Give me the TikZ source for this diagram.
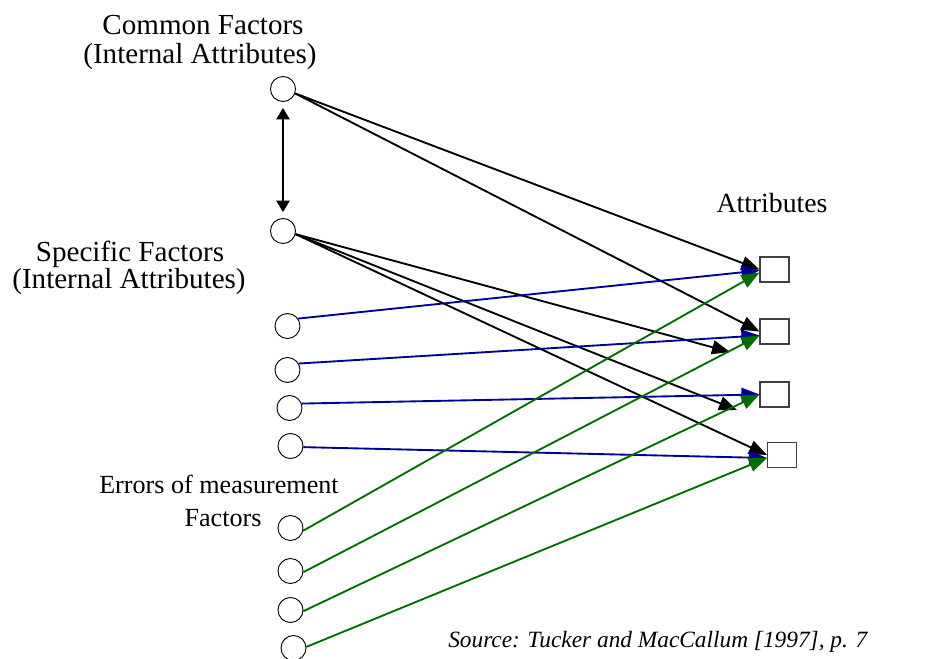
\documentclass[tikz,border=0pt]{standalone}
\usepackage{fontspec}
\setmainfont{Liberation Serif}
\usetikzlibrary{arrows.meta,calc}
\definecolor{pathblue}{RGB}{0,0,150}
\definecolor{pathgreen}{RGB}{0,110,0}

\begin{document}
\begin{tikzpicture}[x=0.75pt,y=-0.75pt,
  factor/.style={circle,draw,line width=0.7pt,minimum size=18.75pt,inner sep=0pt},
  attr/.style={rectangle,draw=black!75,line width=0.8pt,minimum width=21.75pt,minimum height=18.75pt,inner sep=0pt},
  load/.style={line width=1.4pt,-{Triangle[length=13.5pt,width=10.5pt]}},
  corr/.style={line width=0.8pt,{Triangle[length=8.5pt,width=10pt]}-{Triangle[length=8.5pt,width=10pt]},shorten <=4.5pt,shorten >=4.5pt},
  lbl/.style={anchor=base,inner sep=0pt,font=\fontsize{21.8}{24}\selectfont},
  lblsmall/.style={anchor=base,inner sep=0pt,font=\fontsize{19.6}{22}\selectfont},
  lblattr/.style={anchor=base,inner sep=0pt,font=\fontsize{20.8}{23}\selectfont},
  srcnote/.style={anchor=base west,inner sep=0pt,font=\fontsize{17.5}{20}\selectfont\itshape}
]
\useasboundingbox (0,0) rectangle (930,658);

% factor circles
\node[factor] (c1) at (283,89) {};
\node[factor] (c2) at (283,231) {};
\node[factor] (s1) at (287.5,326) {};
\node[factor] (s2) at (287.5,370) {};
\node[factor] (s3) at (289.5,408) {};
\node[factor] (s4) at (290.5,446) {};
\node[factor] (e1) at (290.5,528) {};
\node[factor] (e2) at (290.5,571) {};
\node[factor] (e3) at (290.5,610) {};
\node[factor] (e4) at (293.5,648) {};

% attribute boxes
\node[attr] (a1) at (774.5,269.5) {};
\node[attr] (a2) at (774.5,331.5) {};
\node[attr] (a3) at (774.5,394.5) {};
\node[attr] (a4) at (782,455) {};

% loose ends of the two short specific-factor arrows
\coordinate (t1) at (730,352);
\coordinate (t2) at (737,410);

% labels
\node[lbl] (cf1) at (203,34) {Common Factors};
\node[lbl] (cf2) at (200,63) {(Internal Attributes)};
\node[lbl] (sf1) at (130,261) {Specific Factors};
\node[lbl] (sf2) at (129,288) {(Internal Attributes)};
\node[lblsmall] (ef1) at (219,493) {Errors of measurement};
\node[lblsmall] (ef2) at (223,526) {Factors};
\node[lblattr] (at) at (772,212) {Attributes};
\node[srcnote] (src) at (448,647) {Source: Tucker and MacCallum [1997], p. 7};

% correlation between common and specific factors
\draw[corr] (c1) -- (c2);

% common and specific factor loadings
\draw[load] (c1.-20) -- (a1.west);
\draw[load] (c1.-20) -- (a2.west);
\draw[load] (c2.-14) -- (t1);
\draw[load] (c2.-14) -- (t2);
\draw[load] (c2.-14) -- (a4.west);

% specific-factor paths
\draw[load,pathblue] (s1.35) -- ($(a1.west)+(0,1)$);
\draw[load,pathblue] (s2.30) -- ($(a2.west)+(0,4)$);
\draw[load,pathblue] (s3.20) -- (a3.west);
\draw[load,pathblue] (s4.-5) -- ($(a4.west)+(0,3)$);

% measurement-error paths
\draw[load,pathgreen] (e1.-12) -- ($(a1.west)+(0,3)$);
\draw[load,pathgreen] (e2.-5) -- ($(a2.west)+(0,4)$);
\draw[load,pathgreen] (e3.-5) -- (a3.west);
\draw[load,pathgreen] (e4.5) -- ($(a4.west)+(0,3)$);
\end{tikzpicture}
\end{document}
